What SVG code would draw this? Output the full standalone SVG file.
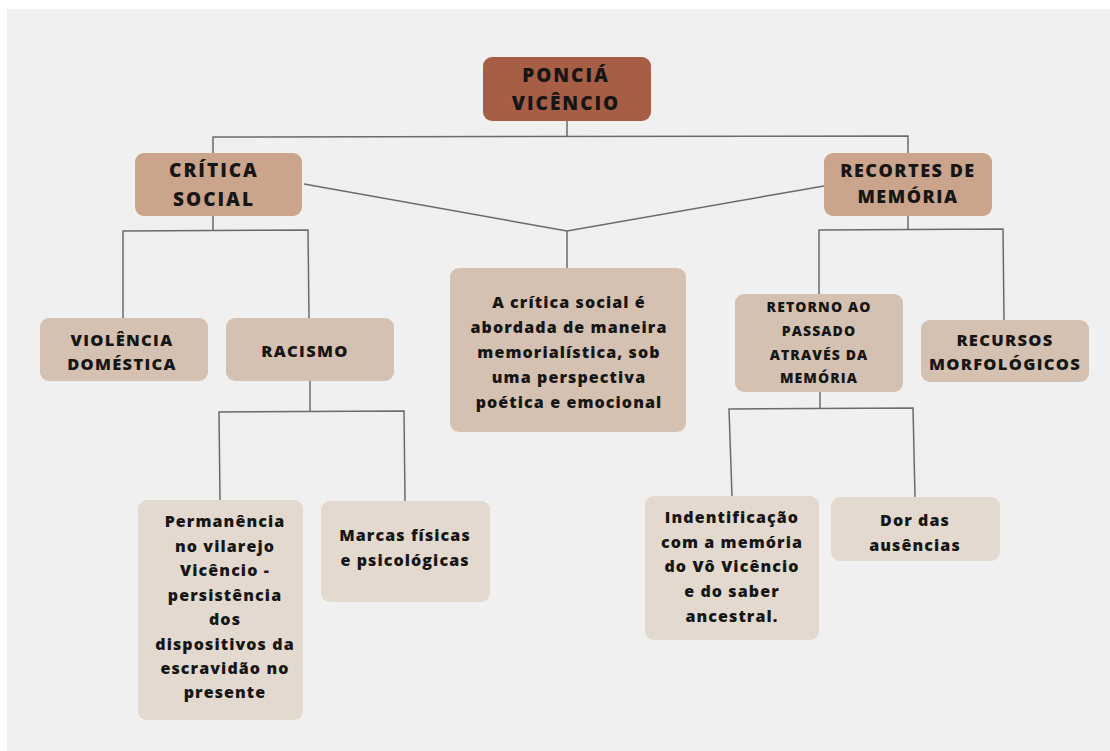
<svg xmlns="http://www.w3.org/2000/svg" width="1110" height="751" viewBox="0 0 1110 751">
<style>
.bg{fill:#f0f0f0}
.n0{fill:#a65e45}
.n1{fill:#caa48b}
.n2{fill:#d5c1b1}
.n3{fill:#e3d9cf}
text{font-family:"Open Sans","Liberation Sans",sans-serif;font-weight:800;fill:#161616;text-anchor:middle}
.t0{font-size:19px;letter-spacing:2px}
.tr{font-size:18px;letter-spacing:1.5px}
.t1{font-size:16.5px;letter-spacing:1.3px}
.t2{font-size:14px;letter-spacing:1.1px}
.tb{font-size:16px;letter-spacing:1.1px}
.c{fill:none;stroke:#6b6b6b;stroke-width:1.5}
</style>
<rect x="0" y="0" width="1110" height="751" fill="#ffffff"/>
<rect class="bg" x="7" y="9" width="1103" height="742"/>
<g id="connectors">
<polyline class="c" points="567,121 567,136"/>
<polyline class="c" points="213,153 213,137 908,136 908,153"/>
<polyline class="c" points="304,184 567,231 824,186"/>
<polyline class="c" points="567,231 567,268"/>
<polyline class="c" points="213,216 213,230"/>
<polyline class="c" points="123,318 123,231 308,230 309,318"/>
<polyline class="c" points="310,381 310,411"/>
<polyline class="c" points="220,500 219,412 404,411 405,501"/>
<polyline class="c" points="908,216 908,229"/>
<polyline class="c" points="819,294 819,230 1003,229 1004,320"/>
<polyline class="c" points="820,392 820,408"/>
<polyline class="c" points="732,496 729,409 913,408 915,497"/>
</g>
<g id="poncia">
<rect class="n0" x="483" y="57" width="168" height="64" rx="9"/>
<text class="t0" x="566" y="82">PONCIÁ</text>
<text class="t0" x="566" y="110">VICÊNCIO</text>
</g>
<g id="critica-social">
<rect class="n1" x="135" y="153" width="167" height="63" rx="9"/>
<text class="t0" x="214" y="177">CRÍTICA</text>
<text class="t0" x="214" y="206">SOCIAL</text>
</g>
<g id="recortes">
<rect class="n1" x="824" y="153" width="168" height="63" rx="9"/>
<text class="tr" x="908" y="176.5">RECORTES DE</text>
<text class="tr" x="908" y="202.5">MEMÓRIA</text>
</g>
<g id="central">
<rect class="n2" x="450" y="268" width="236" height="164" rx="9"/>
<text class="tb" x="569" y="308">A crítica social é</text>
<text class="tb" x="569" y="333">abordada de maneira</text>
<text class="tb" x="569" y="358">memorialística, sob</text>
<text class="tb" x="569" y="383">uma perspectiva</text>
<text class="tb" x="569" y="408">poética e emocional</text>
</g>
<g id="violencia">
<rect class="n2" x="40" y="318" width="168" height="63" rx="9"/>
<text class="t1" x="122" y="345.5">VIOLÊNCIA</text>
<text class="t1" x="122" y="370">DOMÉSTICA</text>
</g>
<g id="racismo">
<rect class="n2" x="226" y="318" width="168" height="63" rx="9"/>
<text class="t1" x="305" y="357">RACISMO</text>
</g>
<g id="retorno">
<rect class="n2" x="735" y="294" width="168" height="98" rx="9"/>
<text class="t2" x="819" y="312">RETORNO AO</text>
<text class="t2" x="819" y="336">PASSADO</text>
<text class="t2" x="819" y="359.5">ATRAVÉS DA</text>
<text class="t2" x="819" y="383">MEMÓRIA</text>
</g>
<g id="recursos">
<rect class="n2" x="921" y="320" width="168" height="62" rx="9"/>
<text class="t1" x="1005" y="345.5">RECURSOS</text>
<text class="t1" x="1005" y="370">MORFOLÓGICOS</text>
</g>
<g id="permanencia">
<rect class="n3" x="138" y="500" width="165" height="220" rx="9"/>
<text class="tb" x="225" y="527">Permanência</text>
<text class="tb" x="225" y="552">no vilarejo</text>
<text class="tb" x="225" y="576">Vicêncio -</text>
<text class="tb" x="225" y="601">persistência</text>
<text class="tb" x="225" y="625">dos</text>
<text class="tb" x="225" y="650">dispositivos da</text>
<text class="tb" x="225" y="674">escravidão no</text>
<text class="tb" x="225" y="698">presente</text>
</g>
<g id="marcas">
<rect class="n3" x="321" y="501" width="169" height="101" rx="9"/>
<text class="tb" x="405" y="541">Marcas físicas</text>
<text class="tb" x="405" y="566">e psicológicas</text>
</g>
<g id="indentificacao">
<rect class="n3" x="645" y="496" width="174" height="144" rx="9"/>
<text class="tb" x="732" y="523">Indentificação</text>
<text class="tb" x="732" y="548">com a memória</text>
<text class="tb" x="732" y="572">do Vô Vicêncio</text>
<text class="tb" x="732" y="597">e do saber</text>
<text class="tb" x="732" y="622">ancestral.</text>
</g>
<g id="dor">
<rect class="n3" x="831" y="497" width="169" height="64" rx="9"/>
<text class="tb" x="915" y="526">Dor das</text>
<text class="tb" x="915" y="551">ausências</text>
</g>
</svg>
